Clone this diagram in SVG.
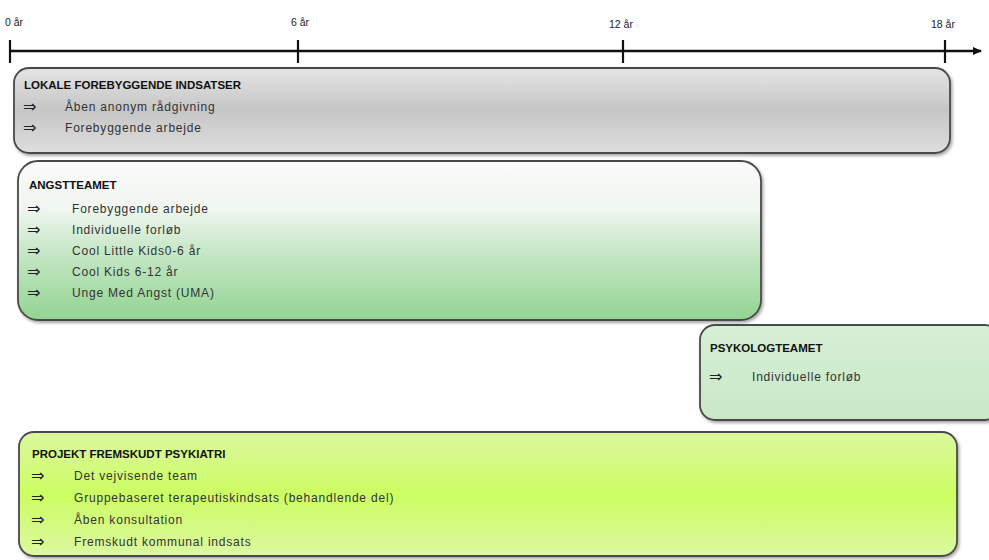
<svg xmlns="http://www.w3.org/2000/svg" width="989" height="560" viewBox="0 0 989 560">
<defs>
<linearGradient id="gGray" x1="0" y1="0" x2="0" y2="1">
<stop offset="0" stop-color="#e4e4e4"/><stop offset="0.5" stop-color="#c6c6c6"/><stop offset="1" stop-color="#dedede"/>
</linearGradient>
<linearGradient id="gAngst" x1="0" y1="0" x2="0" y2="1">
<stop offset="0" stop-color="#fbfbfb"/><stop offset="0.3" stop-color="#f0f6f0"/><stop offset="0.55" stop-color="#c9e8c9"/><stop offset="1" stop-color="#92d492"/>
</linearGradient>
<linearGradient id="gPsyk" x1="0" y1="0" x2="0" y2="1">
<stop offset="0" stop-color="#d6efd6"/><stop offset="1" stop-color="#c9e8c6"/>
</linearGradient>
<linearGradient id="gProj" x1="0" y1="0" x2="0" y2="1">
<stop offset="0" stop-color="#dcf7a0"/><stop offset="0.5" stop-color="#ccfd62"/><stop offset="1" stop-color="#dcf8a0"/>
</linearGradient>
<filter id="sh" x="-5%" y="-10%" width="110%" height="130%">
<feDropShadow dx="1.5" dy="2" stdDeviation="1.5" flood-color="#000" flood-opacity="0.35"/>
</filter>
<marker id="arr" markerWidth="10" markerHeight="10" refX="8" refY="5" orient="auto" markerUnits="userSpaceOnUse">
<path d="M0,1 L9,5 L0,9 Z" fill="#111"/>
</marker>
</defs>
<style>
.box{stroke:#4a4a4a;stroke-width:1.8;filter:url(#sh)}
.t{font-family:"Liberation Sans","Open Sans",sans-serif;font-size:12px;letter-spacing:0.8px;fill:#333}
.b{font-family:"DejaVu Sans",sans-serif;font-size:16px;fill:#222}
.h{font-family:"Liberation Sans","Open Sans",sans-serif;font-size:11.5px;font-weight:bold;fill:#111}
.ax{font-family:"Liberation Sans",sans-serif;font-size:10.5px;fill:#222}
.tick{stroke:#111;stroke-width:2.2}
</style>
<g id="connectors">
<line x1="9" y1="51" x2="981" y2="51" stroke="#111" stroke-width="2.6" marker-end="url(#arr)"/>
<line class="tick" x1="10" y1="40" x2="10" y2="63"/>
<line class="tick" x1="298" y1="40" x2="298" y2="63"/>
<line class="tick" x1="623" y1="40" x2="623" y2="63"/>
<line class="tick" x1="945" y1="40" x2="945" y2="63"/>
<text class="ax" x="5" y="26">0 år</text>
<text class="ax" x="291" y="26">6 år</text>
<text class="ax" x="609" y="28">12 år</text>
<text class="ax" x="931" y="28">18 år</text>
</g>
<g id="lokale">
<rect class="box" x="14" y="68" width="936" height="85" rx="15" fill="url(#gGray)"/>
<text class="h" x="24" y="89">LOKALE FOREBYGGENDE INDSATSER</text>
<text class="b" x="23" y="112">⇒</text><text class="t" x="65" y="111">Åben anonym rådgivning</text>
<text class="b" x="23" y="133">⇒</text><text class="t" x="65" y="132">Forebyggende arbejde</text>
</g>
<g id="angst">
<rect class="box" x="18" y="161" width="743" height="159" rx="20" fill="url(#gAngst)"/>
<text class="h" x="29" y="189">ANGSTTEAMET</text>
<text class="b" x="27" y="214">⇒</text><text class="t" x="72" y="213">Forebyggende arbejde</text>
<text class="b" x="27" y="235">⇒</text><text class="t" x="72" y="234">Individuelle forløb</text>
<text class="b" x="27" y="256">⇒</text><text class="t" x="72" y="255">Cool Little Kids0-6 år</text>
<text class="b" x="27" y="277">⇒</text><text class="t" x="72" y="276">Cool Kids 6-12 år</text>
<text class="b" x="27" y="298">⇒</text><text class="t" x="72" y="297">Unge Med Angst (UMA)</text>
</g>
<g id="psykolog">
<rect class="box" x="700" y="325" width="300" height="95" rx="15" fill="url(#gPsyk)"/>
<text class="h" x="710" y="352">PSYKOLOGTEAMET</text>
<text class="b" x="709" y="382">⇒</text><text class="t" x="752" y="381">Individuelle forløb</text>
</g>
<g id="projekt">
<rect class="box" x="19" y="432" width="938" height="124" rx="15" fill="url(#gProj)"/>
<text class="h" x="32" y="458">PROJEKT FREMSKUDT PSYKIATRI</text>
<text class="b" x="31" y="481">⇒</text><text class="t" x="74" y="480">Det vejvisende team</text>
<text class="b" x="31" y="503">⇒</text><text class="t" x="74" y="502">Gruppebaseret terapeutiskindsats (behandlende del)</text>
<text class="b" x="31" y="525">⇒</text><text class="t" x="74" y="524">Åben konsultation</text>
<text class="b" x="31" y="547">⇒</text><text class="t" x="74" y="546">Fremskudt kommunal indsats</text>
</g>
</svg>
